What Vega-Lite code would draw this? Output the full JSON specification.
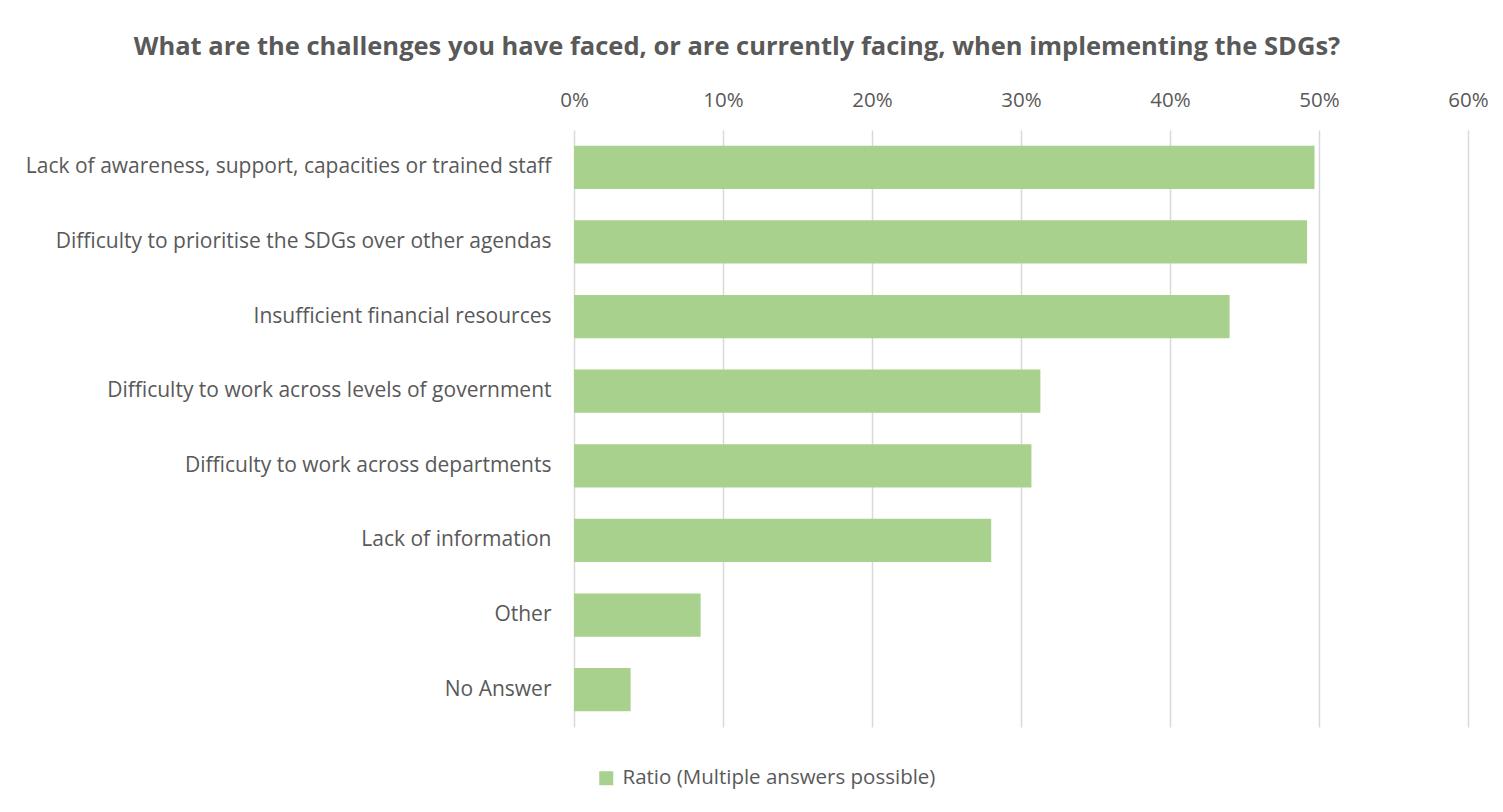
{
  "$schema": "https://vega.github.io/schema/vega-lite/v6.json",
  "autosize": "none",
  "width": 894,
  "height": 597,
  "padding": {"left": 574, "top": 130, "right": 35, "bottom": 85},
  "background": "white",
  "title": {
    "text": "What are the challenges you have faced, or are currently facing, when implementing the SDGs?",
    "anchor": "middle",
    "dx": -284,
    "offset": 30,
    "font": "Open Sans",
    "fontSize": 25.5,
    "fontWeight": "bold",
    "color": "#595959"
  },
  "data": {
    "values": [
      {"challenge": "Lack of awareness, support, capacities or trained staff", "ratio": 0.497, "series": "Ratio (Multiple answers possible)"},
      {"challenge": "Difficulty to prioritise the SDGs over other agendas", "ratio": 0.492, "series": "Ratio (Multiple answers possible)"},
      {"challenge": "Insufficient financial resources", "ratio": 0.440, "series": "Ratio (Multiple answers possible)"},
      {"challenge": "Difficulty to work across levels of government", "ratio": 0.313, "series": "Ratio (Multiple answers possible)"},
      {"challenge": "Difficulty to work across departments", "ratio": 0.307, "series": "Ratio (Multiple answers possible)"},
      {"challenge": "Lack of information", "ratio": 0.280, "series": "Ratio (Multiple answers possible)"},
      {"challenge": "Other", "ratio": 0.085, "series": "Ratio (Multiple answers possible)"},
      {"challenge": "No Answer", "ratio": 0.038, "series": "Ratio (Multiple answers possible)"}
    ]
  },
  "mark": {"type": "bar", "cornerRadius": 0},
  "encoding": {
    "y": {
      "field": "challenge",
      "type": "nominal",
      "sort": null,
      "scale": {"paddingInner": 0.42, "paddingOuter": 0.21},
      "axis": {
        "title": null,
        "ticks": false,
        "domain": false,
        "labelPadding": 23,
        "labelFont": "Open Sans",
        "labelFontSize": 21,
        "labelColor": "#595959",
        "labelLimit": 700
      }
    },
    "x": {
      "field": "ratio",
      "type": "quantitative",
      "scale": {"domain": [0, 0.6], "nice": false},
      "axis": {
        "orient": "top",
        "title": null,
        "format": ".0%",
        "values": [0, 0.1, 0.2, 0.3, 0.4, 0.5, 0.6],
        "ticks": false,
        "domain": false,
        "grid": true,
        "gridColor": "#d9d9d9",
        "gridWidth": 1.5,
        "labelFlush": false,
        "labelOverlap": false,
        "labelPadding": 20,
        "labelFont": "Open Sans",
        "labelFontSize": 20.5,
        "labelColor": "#595959"
      }
    },
    "color": {
      "field": "series",
      "type": "nominal",
      "scale": {"range": ["#a9d18e"]},
      "legend": {
        "title": null,
        "orient": "none",
        "legendX": 22,
        "legendY": 638,
        "symbolType": "square",
        "symbolSize": 196,
        "symbolStrokeWidth": 0,
        "labelFont": "Open Sans",
        "labelFontSize": 20.5,
        "labelColor": "#595959",
        "labelOffset": 6,
        "labelLimit": 600
      }
    }
  },
  "config": {
    "view": {"stroke": null}
  }
}
